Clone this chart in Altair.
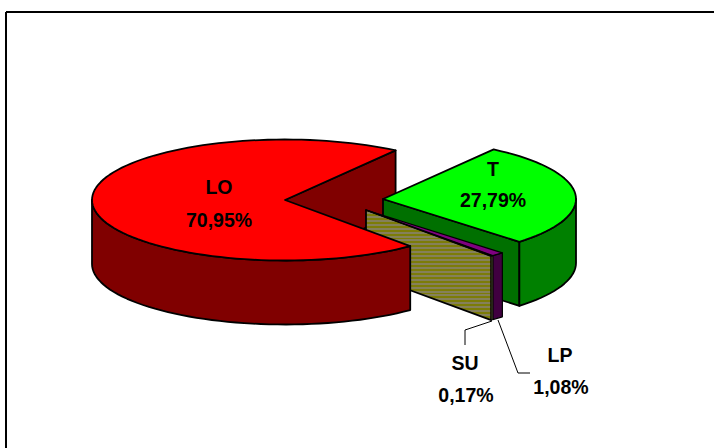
import math

import altair as alt
import pandas as pd

# Slice shares, in percent, and their printed labels
names = ["LO", "T", "LP", "SU"]
shares = [70.95, 27.79, 1.08, 0.17]
share_labels = ["70,95%", "27,79%", "1,08%", "0,17%"]

# Pie geometry
W, H = 714, 448
RX, RY, DEPTH = 193, 60.5, 64
START = 55.0  # angle of the edge shared by LO and T; slices run clockwise
CENTER_LO = (285, 200)
CENTER_T = (383, 199)
CENTER_THIN = (366, 210)

FONT = "Liberation Sans"
STRIPES = ["#7c7c08", "#85805a"]


def bounds():
    """Start and end angle of every slice, from the shares."""
    out = {}
    a = START
    for key in ["T", "LP", "SU", "LO"]:
        b = a - shares[names.index(key)] * 3.6
        out[key] = (a, b)
        a = b
    return out


ANG = bounds()
X = alt.X("x:Q", scale=alt.Scale(domain=[0, W], nice=False, zero=False), axis=None)
Y = alt.Y("y:Q", scale=alt.Scale(domain=[H, 0], nice=False, zero=False), axis=None)


def rim(c, a, b, dy=0.0):
    n = max(1, int(abs(b - a) / 2.5))
    pts = []
    for i in range(n + 1):
        t = math.radians(a + (b - a) * i / n)
        pts.append((c[0] + RX * math.cos(t), c[1] - RY * math.sin(t) + dy))
    return pts


def poly(pts, fill, width=1.8):
    df = pd.DataFrame({"x": [p[0] for p in pts], "y": [p[1] for p in pts], "i": range(len(pts))})
    return alt.Chart(df).mark_line(
        interpolate="linear-closed", fill=fill, stroke="black", strokeWidth=width, strokeJoin="round"
    ).encode(x=X, y=Y, order="i:O")


def top(c, a, b, fill, width=1.8):
    return poly([c] + rim(c, a, b), fill, width)


def wall(c, a, b, fill, width=1.8):
    return poly(rim(c, a, b) + rim(c, b, a, DEPTH), fill, width)


def cut(c, a, fill, width=1.8):
    e = rim(c, a, a)[0]
    return poly([c, e, (e[0], e[1] + DEPTH), (c[0], c[1] + DEPTH)], fill, width)


def open_line(pts, width=1.0):
    df = pd.DataFrame({"x": [p[0] for p in pts], "y": [p[1] for p in pts], "i": range(len(pts))})
    return alt.Chart(df).mark_line(color="black", strokeWidth=width).encode(x=X, y=Y, order="i:O")


def text(label, x, y):
    df = pd.DataFrame({"x": [x], "y": [y], "t": [label]})
    return alt.Chart(df).mark_text(
        font=FONT, fontSize=19.5, fontWeight="bold", color="black", align="center", baseline="middle"
    ).encode(x=X, y=Y, text="t:N")


# Horizontal hatching of the SU faces
n_bands = 56
stops = []
for k in range(n_bands):
    c_ = STRIPES[k % 2]
    stops.append(alt.GradientStop(color=c_, offset=k / n_bands))
    stops.append(alt.GradientStop(color=c_, offset=(k + 1) / n_bands))
hatch = alt.LinearGradient(gradient="linear", stops=stops, x1=0, x2=0, y1=0, y2=1)

t_a, t_b = ANG["T"]
lp_a, lp_b = ANG["LP"]
su_a, su_b = ANG["SU"]
lo_a, lo_b = ANG["LO"]

layers = [
    # frame: top and left rules only
    open_line([(6, 12), (W, 12)], 2),
    open_line([(6, 12), (6, H)], 2),
    # back face of LO seen through the gap
    cut(CENTER_LO, lo_b, "#800000"),
    # T
    cut(CENTER_T, t_b, "#007000"),
    wall(CENTER_T, 0, t_b, "#008000"),
    top(CENTER_T, t_a, t_b, "#00ff00"),
    # LP and SU, pulled out together
    cut(CENTER_THIN, su_b, hatch),
    wall(CENTER_THIN, lp_a, lp_b, "#400040", 1.2),
    wall(CENTER_THIN, su_a, su_b, "#a8a860", 1.0),
    top(CENTER_THIN, su_a, su_b, "#808000", 1.2),
    top(CENTER_THIN, lp_a, lp_b, "#800080", 1.2),
    # LO in front of everything else
    wall(CENTER_LO, -180, lo_a, "#800000"),
    top(CENTER_LO, lo_a, lo_b, "#ff0000"),
    # leaders
    open_line([(492, 321), (465, 330), (465, 345)]),
    open_line([(498, 320), (518, 373), (530, 373)]),
    # labels
    text(names[0], 219, 188),
    text(share_labels[0], 219, 221),
    text(names[1], 493, 170),
    text(share_labels[1], 493, 201),
    text(names[3], 465, 364),
    text(share_labels[3], 466, 396),
    text(names[2], 560, 356),
    text(share_labels[2], 561, 388),
]

chart = alt.layer(*layers).properties(
    width=W, height=H, padding=0, autosize=alt.AutoSizeParams(type="none"), background="white"
).configure_view(stroke=None)

chart.save("out.html", embed_options={"renderer": "svg", "actions": False})
